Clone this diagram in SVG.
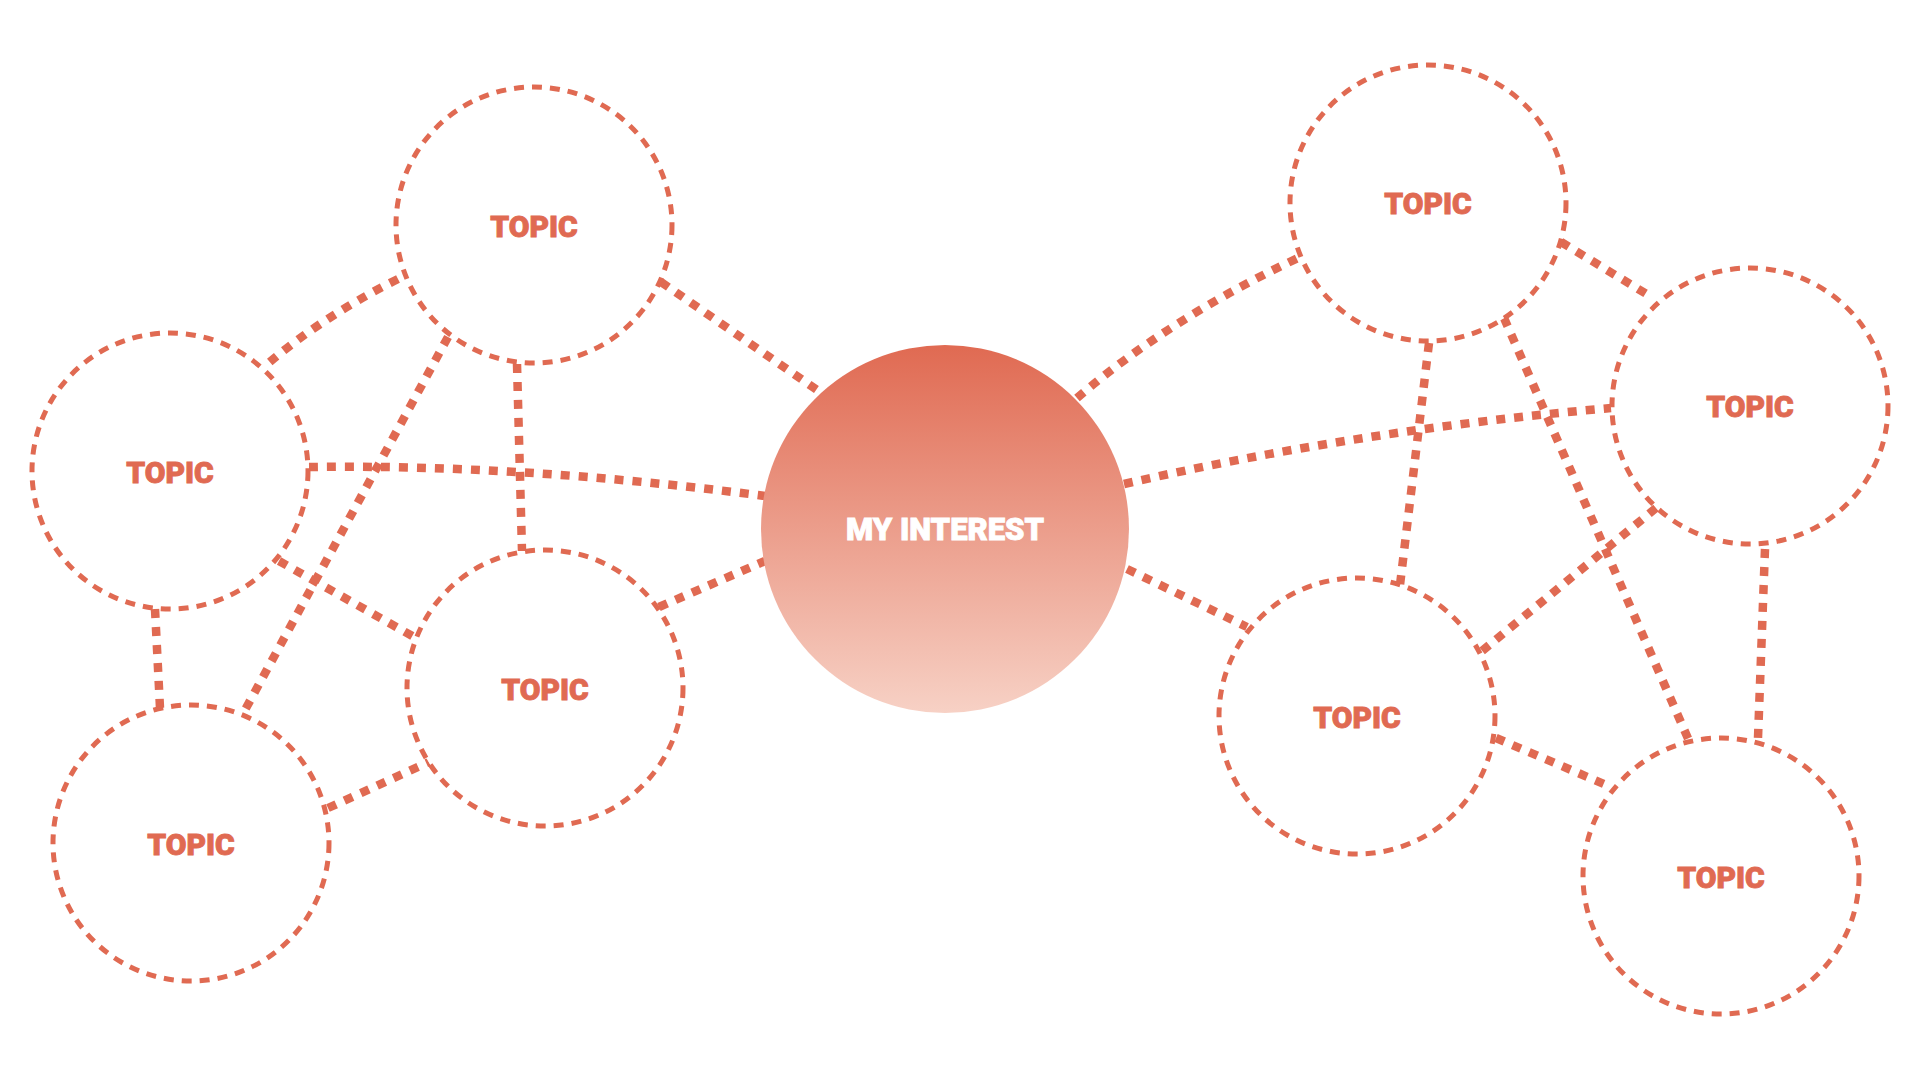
<svg xmlns="http://www.w3.org/2000/svg" width="1920" height="1080" viewBox="0 0 1920 1080">
<defs>
<linearGradient id="cg" x1="0" y1="0" x2="0" y2="1">
<stop offset="0" stop-color="#E06A52"/>
<stop offset="1" stop-color="#F7D1C5"/>
</linearGradient>
<style>
.topic{fill:#fff;stroke:#E06A52;stroke-width:5;stroke-dasharray:10 8}
.lbl{font-family:Roboto,"Liberation Sans",sans-serif;font-weight:900;font-size:30px;fill:#E06A52;stroke:#E06A52;stroke-width:0.9;text-anchor:middle;dominant-baseline:central}
.main{font-family:Roboto,"Liberation Sans",sans-serif;font-weight:900;font-size:31px;fill:#fff;stroke:#fff;stroke-width:0.9;text-anchor:middle;dominant-baseline:central}
.con{fill:none;stroke:#E06A52;stroke-width:8.5;stroke-dasharray:9 9}
</style>
</defs>
<rect width="1920" height="1080" fill="#fff"/>
<g id="connectors">
<path class="con" d="M661,282 L820,392"/>
<path class="con" d="M309,467 Q520,464 765,496"/>
<path class="con" d="M659,607 L765,561"/>
<path class="con" d="M398,279 Q320,318 264,367"/>
<path class="con" d="M448,337 L245,710"/>
<path class="con" d="M517,364 L522,551"/>
<path class="con" d="M279,561 L414,637"/>
<path class="con" d="M155,609 L160,708"/>
<path class="con" d="M328,808 L429,762"/>
<path class="con" d="M1077,398 Q1170,318 1300,257"/>
<path class="con" d="M1124,484 Q1360,430 1611,408"/>
<path class="con" d="M1127,569 L1247,627"/>
<path class="con" d="M1561,242 L1653,298"/>
<path class="con" d="M1429,343 L1400,585"/>
<path class="con" d="M1504,318 L1690,743"/>
<path class="con" d="M1656,508 L1482,651"/>
<path class="con" d="M1765,549 L1758,738"/>
<path class="con" d="M1496,738 L1604,784"/>
</g>
<g id="center">
<circle cx="945" cy="529" r="184" fill="url(#cg)"/>
<text class="main" x="945" y="529">MY INTEREST</text>
</g>
<g id="topic1"><circle class="topic" cx="534" cy="225" r="138" fill="none"/><text class="lbl" x="534" y="226">TOPIC</text></g>
<g id="topic2"><circle class="topic" cx="170" cy="471" r="138" fill="none"/><text class="lbl" x="170" y="472">TOPIC</text></g>
<g id="topic3"><circle class="topic" cx="545" cy="688" r="138" fill="none"/><text class="lbl" x="545" y="689">TOPIC</text></g>
<g id="topic4"><circle class="topic" cx="191" cy="843" r="138" fill="none"/><text class="lbl" x="191" y="844">TOPIC</text></g>
<g id="topic5"><circle class="topic" cx="1428" cy="203" r="138" fill="none"/><text class="lbl" x="1428" y="203">TOPIC</text></g>
<g id="topic6"><circle class="topic" cx="1750" cy="406" r="138" fill="none"/><text class="lbl" x="1750" y="406">TOPIC</text></g>
<g id="topic7"><circle class="topic" cx="1357" cy="716" r="138" fill="none"/><text class="lbl" x="1357" y="717">TOPIC</text></g>
<g id="topic8"><circle class="topic" cx="1721" cy="876" r="138" fill="none"/><text class="lbl" x="1721" y="877">TOPIC</text></g>
</svg>
